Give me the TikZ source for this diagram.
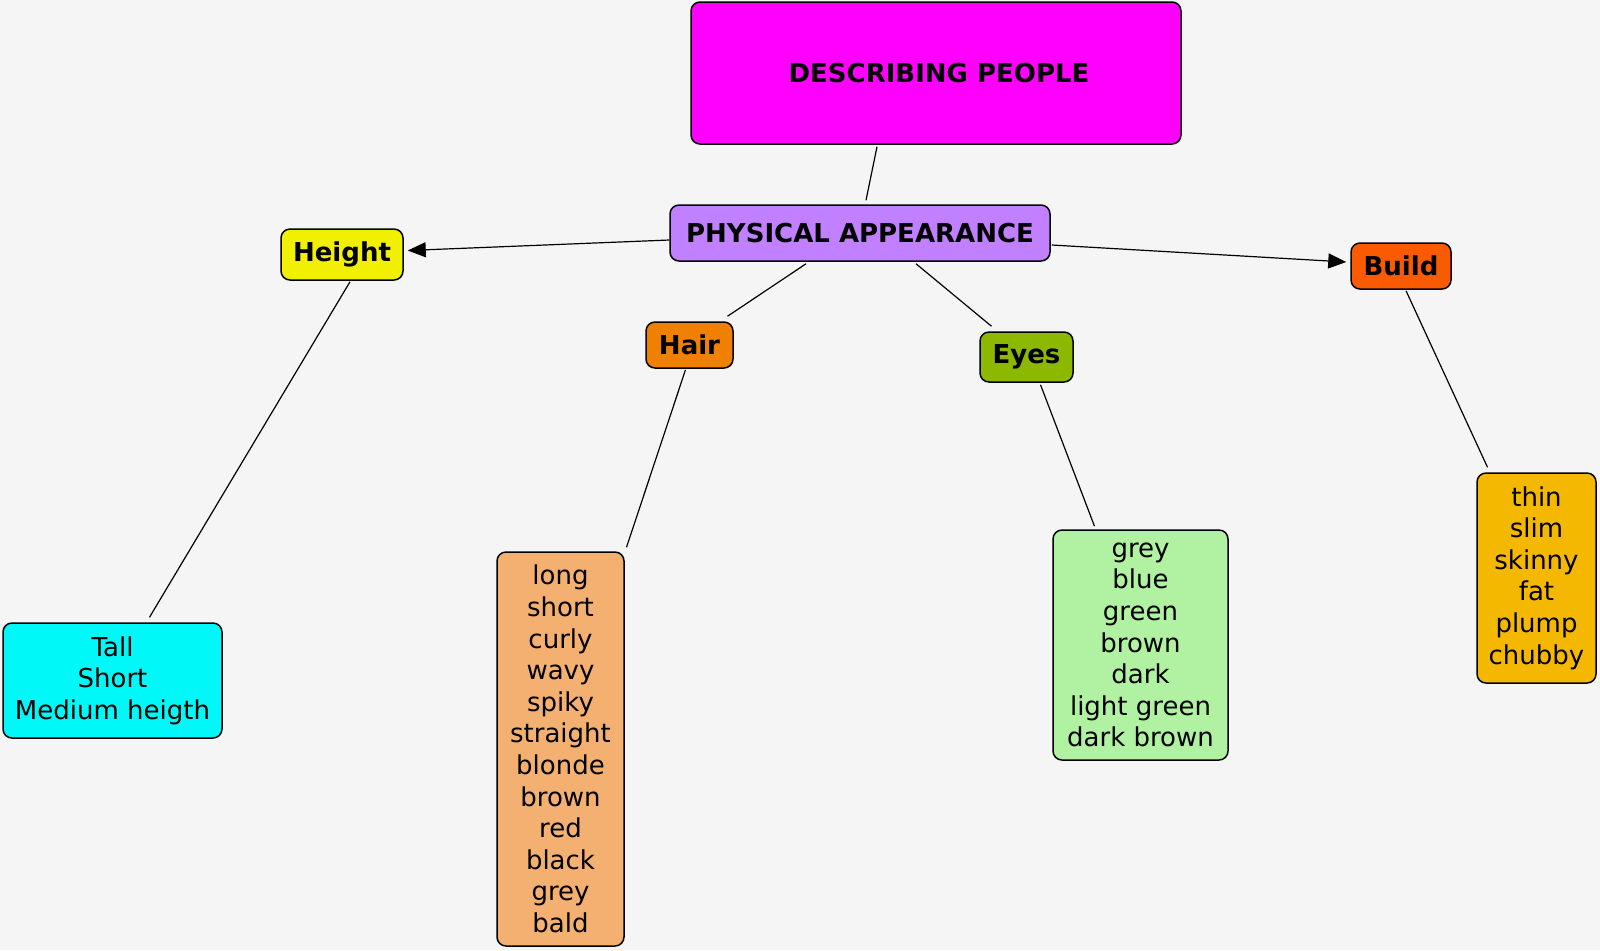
\documentclass[tikz,border=0pt]{standalone}
\usepackage{fontspec}
\setmainfont{DejaVu Sans}
\usetikzlibrary{arrows.meta,calc}
\definecolor{bg}{HTML}{F6F5F5}
\definecolor{cdp}{HTML}{FF00FF}
\definecolor{cphys}{HTML}{C080FF}
\definecolor{cheight}{HTML}{F0F000}
\definecolor{chair}{HTML}{F08000}
\definecolor{ceyes}{HTML}{8CB800}
\definecolor{cbuild}{HTML}{FA5A00}
\definecolor{ctall}{HTML}{00F8F8}
\definecolor{chairl}{HTML}{F4B070}
\definecolor{ceyesl}{HTML}{B0F2A2}
\definecolor{cbuildl}{HTML}{F5B800}
\tikzset{
  concept/.style={draw=black, line width=0.75pt, rounded corners=4.5pt, align=center, inner sep=0pt,
    font=\fontsize{13}{15.8}\selectfont\bfseries},
  listbox/.style={draw=black, line width=0.75pt, rounded corners=4.5pt, align=center, inner sep=0pt,
    font=\fontsize{13}{15.8}\selectfont},
  link/.style={draw=black, line width=0.6pt},
  arr/.style={link, -{Triangle[length=9pt,width=7.5pt]}}
}
\begin{document}
\begin{tikzpicture}[x=0.5pt,y=-0.5pt]
\fill[bg] (0,0) rectangle (1600,950);
\useasboundingbox (0,0) rectangle (1600,950);

\node[concept, fill=cdp, minimum width=245pt, minimum height=71pt] (dp) at (936,73) {\hspace*{3pt}DESCRIBING PEOPLE};
\node[concept, fill=cphys, minimum width=190pt, minimum height=28pt] (phys) at (860,233) {PHYSICAL APPEARANCE};
\node[concept, fill=cheight, minimum width=61pt, minimum height=25.5pt] (height) at (342,254.5) {Height};
\node[concept, fill=chair, minimum width=43.5pt, minimum height=23pt] (hair) at (689.5,345) {Hair};
\node[concept, fill=ceyes, minimum width=46.5pt, minimum height=25pt] (eyes) at (1026.5,357) {Eyes};
\node[concept, fill=cbuild, minimum width=50pt, minimum height=23pt] (build) at (1401,266) {Build};

\node[listbox, fill=ctall, minimum width=109.5pt, minimum height=57.5pt] (tall) at (112.5,680.5) {Tall\\Short\\Medium heigth};
\node[listbox, fill=chairl, minimum width=63.5pt, minimum height=197pt] (hairl) at (560.5,749) {long\\short\\curly\\wavy\\spiky\\straight\\blonde\\brown\\red\\black\\grey\\bald};
\node[listbox, fill=ceyesl, minimum width=87.5pt, minimum height=115pt] (eyesl) at (1140.5,645) {grey\\blue\\green\\brown\\dark\\light green\\dark brown};
\node[listbox, fill=cbuildl, minimum width=59.5pt, minimum height=105pt] (buildl) at (1536.5,578) {thin\\slim\\skinny\\fat\\plump\\chubby};

\draw[link] ($(dp.south)+(-59,2)$) -- ($(phys.north)+(6,-4)$);
\draw[arr] ($(phys.west)+(0,7)$) -- ($(height.east)+(4,-4)$);
\draw[arr] ($(phys.east)+(1,12)$) -- ($(build.west)+(-4,-4)$);
\draw[link] ($(phys.south)+(-54,2)$) -- ($(hair.north)+(38,-5)$);
\draw[link] ($(phys.south)+(56,2)$) -- ($(eyes.north)+(-35,-5)$);
\draw[link] ($(height.south)+(8,1)$) -- ($(tall.north)+(37,-5)$);
\draw[link] ($(hair.south)+(-4,1)$) -- ($(hairl.north)+(66,-4)$);
\draw[link] ($(eyes.south)+(14,2)$) -- ($(eyesl.north)+(-46,-3)$);
\draw[link] ($(build.south)+(5,1)$) -- ($(buildl.north)+(-49,-5)$);
\end{tikzpicture}
\end{document}
